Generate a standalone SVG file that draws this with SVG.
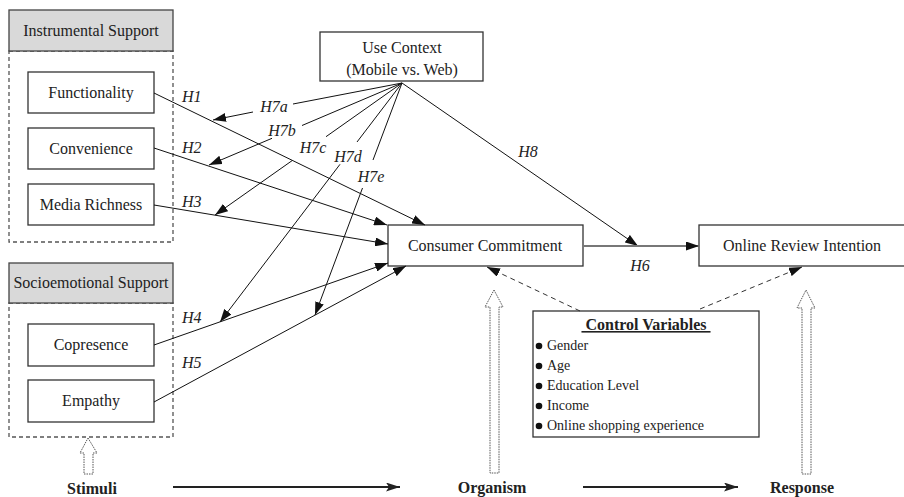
<svg xmlns="http://www.w3.org/2000/svg" width="904" height="497" viewBox="0 0 904 497">
<style>
text{font-family:"Liberation Serif","Times New Roman",serif;font-size:16px;fill:#222}
.c{text-anchor:middle}
.h{font-style:italic}
.b{font-weight:bold}
.sm{font-size:14px}
.box{fill:#fff;stroke:#333;stroke-width:1.3}
.hdr{fill:#d9d9d9;stroke:#444;stroke-width:1.3}
.dash{fill:none;stroke:#555;stroke-width:1.3;stroke-dasharray:4 3}
.ln{fill:none;stroke:#111;stroke-width:1;marker-end:url(#arr)}
.dl{fill:none;stroke:#333;stroke-width:1;stroke-dasharray:5 4;marker-end:url(#arr)}
.bar{fill:none;stroke:#222;stroke-width:2;marker-end:url(#arr2)}
.hol{fill:#fff;stroke:#555;stroke-width:1;stroke-dasharray:1.5 1}
</style>
<defs>
<marker id="arr" markerUnits="userSpaceOnUse" markerWidth="13" markerHeight="9" refX="13" refY="4.5" orient="auto"><path d="M0,0 L13,4.5 L0,9 z" fill="#111"/></marker>
<marker id="arr2" markerUnits="userSpaceOnUse" markerWidth="14" markerHeight="9" refX="14" refY="4.5" orient="auto"><path d="M0,0 L14,4.5 L0,9 L3,4.5 z" fill="#222"/></marker>
<marker id="arrg" markerUnits="userSpaceOnUse" markerWidth="13" markerHeight="9" refX="13" refY="4.5" orient="auto"><path d="M0,0 L13,4.5 L0,9 z" fill="#111"/></marker>
</defs>

<g id="instrumental-group">
<rect class="dash" x="9" y="51" width="164" height="191"/>
<rect class="hdr" x="9" y="10" width="164" height="41"/>
<text class="c" x="91" y="36">Instrumental Support</text>
</g>
<g id="functionality"><rect class="box" x="28" y="72" width="126" height="41"/><text class="c" x="91" y="98">Functionality</text></g>
<g id="convenience"><rect class="box" x="28" y="128" width="126" height="41"/><text class="c" x="91" y="154">Convenience</text></g>
<g id="media-richness"><rect class="box" x="28" y="184" width="126" height="41"/><text class="c" x="91" y="210">Media Richness</text></g>

<g id="socioemotional-group">
<rect class="dash" x="9" y="303" width="164" height="134"/>
<rect class="hdr" x="9" y="263" width="164" height="40"/>
<text class="c" x="91" y="288">Socioemotional Support</text>
</g>
<g id="copresence"><rect class="box" x="28" y="324" width="126" height="42"/><text class="c" x="91" y="350">Copresence</text></g>
<g id="empathy"><rect class="box" x="28" y="380" width="126" height="42"/><text class="c" x="91" y="406">Empathy</text></g>

<g id="use-context"><rect class="box" x="320" y="32" width="163" height="49"/><text class="c" x="402" y="53">Use Context</text><text class="c" x="402" y="75">(Mobile vs. Web)</text></g>
<g id="consumer-commitment"><rect class="box" x="388" y="225" width="195" height="41"/><text class="c" x="485" y="251">Consumer Commitment</text></g>
<g id="online-review-intention"><rect class="box" x="699" y="225" width="210" height="41"/><text class="c" x="802" y="251">Online Review Intention</text></g>

<g id="control-variables">
<rect class="box" x="533" y="311" width="226" height="126"/>
<text class="c b" x="646" y="330" text-decoration="underline" xml:space="preserve"> Control Variables </text>
<circle cx="539" cy="346" r="3.3" fill="#111"/><text class="sm" x="547" y="350">Gender</text>
<circle cx="539" cy="366" r="3.3" fill="#111"/><text class="sm" x="547" y="370">Age</text>
<circle cx="539" cy="386" r="3.3" fill="#111"/><text class="sm" x="547" y="390">Education Level</text>
<circle cx="539" cy="406" r="3.3" fill="#111"/><text class="sm" x="547" y="410">Income</text>
<circle cx="539" cy="426" r="3.3" fill="#111"/><text class="sm" x="547" y="430">Online shopping experience</text>
</g>

<g id="connectors">
<path class="ln" d="M154,93 L425,225"/>
<path class="ln" d="M154,148 L387,225"/>
<path class="ln" d="M154,205 L388,244"/>
<path class="ln" d="M154,345 L388,263"/>
<path class="ln" d="M154,402 L406,266"/>
<path class="ln" d="M402,83 L293,104 M253,112 L213,120"/>
<path class="ln" d="M402,83 L302,125.5 M272,138.3 L209,165"/>
<path class="ln" d="M402,83 L326,136.7 M292,160.7 L215,215"/>
<path class="ln" d="M402,83 L357,142 M340,164.3 L220,322"/>
<path class="ln" d="M402,83 L373,160 M362.5,188 L315,315"/>
<path class="ln" d="M402,83 L638,246"/>
<path d="M583,246 L699,246" fill="none" stroke="#777" stroke-width="2" marker-end="url(#arrg)"/>
<path class="dl" d="M580,311 L487,267"/>
<path class="dl" d="M700,309 L802,267"/>
<path class="bar" d="M173,487 L400,487"/>
<path class="bar" d="M583,487 L738,487"/>
<polygon class="hol" points="88,438 97,453 93,453 93,474 84,474 84,453 80,453"/>
<polygon class="hol" points="494,290 503,307 499,307 499,473 490,473 490,307 485,307"/>
<polygon class="hol" points="806,290 815,308 811,308 811,474 802,474 802,308 797,308"/>
</g>

<g id="labels">
<text class="h" x="182" y="102">H1</text>
<text class="h" x="182" y="153">H2</text>
<text class="h" x="182" y="207">H3</text>
<text class="h" x="182" y="323">H4</text>
<text class="h" x="182" y="368">H5</text>
<text class="h c" x="274" y="112">H7a</text>
<text class="h c" x="282" y="136">H7b</text>
<text class="h c" x="313" y="153">H7c</text>
<text class="h c" x="348" y="162">H7d</text>
<text class="h c" x="371" y="182">H7e</text>
<text class="h c" x="528" y="157">H8</text>
<text class="h c" x="640" y="271">H6</text>
<text class="b c" x="92" y="494">Stimuli</text>
<text class="b c" x="492" y="493">Organism</text>
<text class="b c" x="802" y="493">Response</text>
</g>
</svg>
